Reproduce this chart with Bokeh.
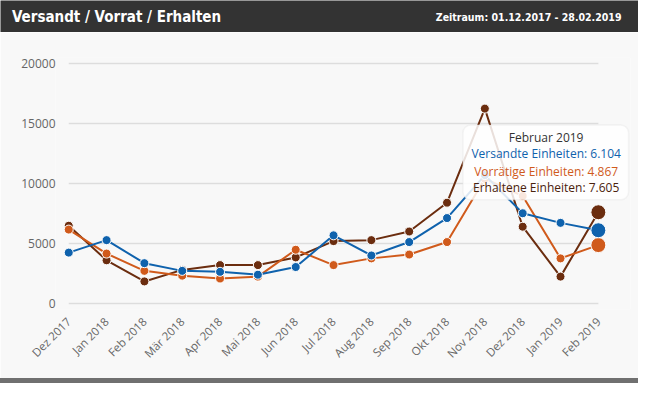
import math
from bokeh.plotting import figure
from bokeh.layouts import column
from bokeh.models import FixedTicker, BoxAnnotation, Label, Spacer
from bokeh.core.properties import value
from bokeh.embed import file_html
from bokeh.resources import INLINE

months = ["Dez 2017", "Jan 2018", "Feb 2018", "Mär 2018", "Apr 2018", "Mai 2018",
          "Jun 2018", "Jul 2018", "Aug 2018", "Sep 2018", "Okt 2018", "Nov 2018",
          "Dez 2018", "Jan 2019", "Feb 2019"]
versandt = [4240, 5280, 3360, 2720, 2640, 2400, 3040, 5680, 4000, 5120, 7120, 10700, 7520, 6720, 6104]
vorrat = [6160, 4160, 2720, 2320, 2080, 2240, 4480, 3200, 3760, 4080, 5120, 10400, 8960, 3760, 4867]
erhalten = [6480, 3600, 1840, 2800, 3200, 3200, 3840, 5200, 5280, 6000, 8400, 16240, 6400, 2240, 7605]
y_ticks = [0, 5000, 10000, 15000, 20000]

title_text = "Versandt / Vorrat / Erhalten"
period_text = "Zeitraum: 01.12.2017 - 28.02.2019"
tip_title = "Februar 2019"
tip_lines = ["Versandte Einheiten: 6.104", "Vorrätige Einheiten: 4.867", "Erhaltene Einheiten: 7.605"]

W = 638
C_BLUE = "#0f62ad"
C_ORANGE = "#d05a1b"
C_BROWN = "#6b2d0f"
BG = "#f8f8f8"
FONT = "Open Sans"
HFONT = "'DejaVu Sans Condensed', 'Roboto'"
xs = list(range(len(months)))

# ---------- header ----------
h = figure(width=W, height=32, x_range=(0, W), y_range=(0, 32),
           output_backend="svg", toolbar_location=None,
           x_axis_location=None, y_axis_location=None, min_border=0, frame_align=False)
h.grid.visible = False
h.outline_line_color = None
h.background_fill_color = "#333333"
h.border_fill_color = "#333333"
h.text(x=[11.5], y=[15.5], text=[title_text], text_color="white",
       text_font=value(HFONT), text_font_style="bold",
       text_font_size="15px", text_baseline="middle", text_align="left")
h.text(x=[621], y=[15.5], text=[period_text], text_color="white",
       text_font=value(HFONT), text_font_style="bold",
       text_font_size="10.5px", text_baseline="middle", text_align="right")

# ---------- main ----------
p = figure(width=W, height=346, x_range=(-0.35, 14.85), y_range=(-500, 20500),
           output_backend="svg", toolbar_location=None,
           min_border_left=55, min_border_right=8, min_border_top=25, min_border_bottom=69)
p.background_fill_color = BG
p.border_fill_color = BG
p.outline_line_color = None
p.grid.visible = False

# grid lines spanning first to last month
p.segment(x0=[xs[0]] * len(y_ticks), x1=[xs[-1]] * len(y_ticks), y0=y_ticks, y1=y_ticks,
          line_color="#dddddd", line_width=1.5)

p.yaxis.ticker = FixedTicker(ticks=y_ticks)
p.xaxis.ticker = FixedTicker(ticks=xs)
p.xaxis.major_label_overrides = {i: m for i, m in enumerate(months)}
p.xaxis.major_label_orientation = math.pi / 4
for ax in (p.xaxis, p.yaxis):
    ax.axis_line_color = None
    ax.major_tick_line_color = None
    ax.minor_tick_line_color = None
    ax.major_tick_out = 0
    ax.major_tick_in = 0
    ax.major_label_text_color = "#666666"
    ax.major_label_text_font = FONT
p.yaxis.major_label_text_font_size = "12px"
p.yaxis.major_label_standoff = 0
p.xaxis.major_label_text_font_size = "11.5px"
p.xaxis.major_label_standoff = 10

for ys, col in ((erhalten, C_BROWN), (vorrat, C_ORANGE), (versandt, C_BLUE)):
    p.line(xs, ys, line_color=col, line_width=2)
    p.scatter(xs[:-1], ys[:-1], size=9, fill_color=col, line_color="white", line_width=1)
    p.scatter(xs[-1:], ys[-1:], size=15, fill_color=col, line_color="white", line_width=1)

# tooltip box
box = BoxAnnotation(left=10.42, right=14.8, top=14880, bottom=8640,
                    fill_color="white", fill_alpha=0.85,
                    line_color="#dddddd", line_width=1.5, border_radius=8)
p.add_layout(box)
tip_x = 12.62
tip_ys = [13840, 12480, 11040, 9680]
tip_cols = ["#333333", C_BLUE, C_ORANGE, "#4a220c"]
for txt, ty, tc in zip([tip_title] + tip_lines, tip_ys, tip_cols):
    p.add_layout(Label(x=tip_x, y=ty, text=txt, text_color=tc, text_font=FONT,
                       text_font_size="12px", text_align="center", text_baseline="middle"))

# ---------- footer ----------
f = Spacer(width=W, height=5, styles={"background-color": "#707070"})

layout = column(h, p, f, spacing=0)
open("out.html", "w").write(file_html(layout, INLINE))
